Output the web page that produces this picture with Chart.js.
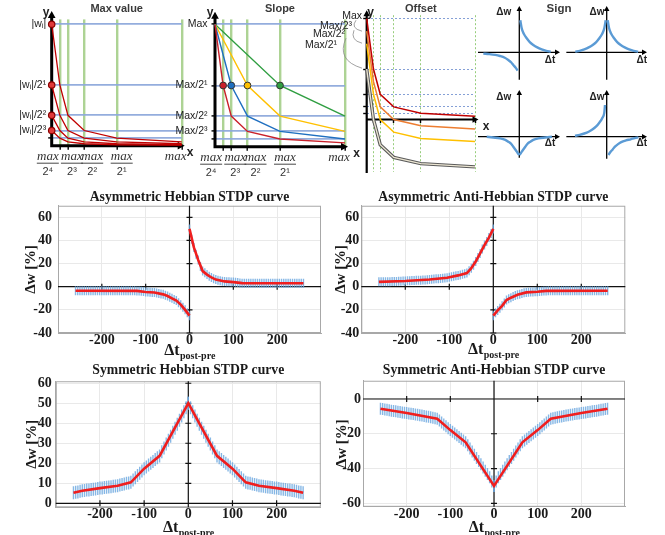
<!DOCTYPE html>
<html>
<head>
<meta charset="utf-8">
<title>STDP curves</title>
<script src="https://cdn.jsdelivr.net/npm/chart.js@4.4.0/dist/chart.umd.min.js"></script>
<style>
    body { margin: 0; background: #fff; }
    #page { position: relative; width: 665px; height: 535px; overflow: hidden; background: #fff; }
    #page canvas { position: absolute; }
</style>
</head>
<body>
<div id="page"></div>
<script>
// ---------- STDP curves (bottom) ----------
const dtNeg = [-260, -255, -250, -245, -240, -235, -230, -225, -220, -215, -210, -205, -200, -195, -190, -185, -180, -175,
    -170, -165, -160, -155, -150, -145, -140, -135, -130, -125, -120, -115, -110, -105, -100, -95, -90, -85, -80, -75,
    -70, -65, -60, -55, -50, -45, -40, -35, -30, -25, -20, -15, -10, -5, 0];
const dtPos = [0, 5, 10, 15, 20, 25, 30, 35, 40, 45, 50, 55, 60, 65, 70, 75, 80, 85, 90, 95, 100, 105, 110, 115, 120,
    125, 130, 135, 140, 145, 150, 155, 160, 165, 170, 175, 180, 185, 190, 195, 200, 205, 210, 215, 220, 225, 230, 235,
    240, 245, 250, 255, 260];

const asymHebbNeg = [-3.5, -3.5, -3.5, -3.5, -3.5, -3.5, -3.5, -3.5, -3.5, -3.5, -3.5, -3.5, -3.5, -3.5, -3.5, -3.5,
    -3.5, -3.5, -3.5, -3.5, -3.5, -3.5, -3.5, -3.5, -3.5, -3.5, -3.5, -3.5,
    -3.6, -3.8, -4.0, -4.2, -4.5, -4.6, -4.8, -4.9, -5.0, -5.4, -5.8, -6.2, -6.6, -7.3, -8.0, -9.0, -10.0, -11.0, -12.0,
    -13.8, -15.5, -17.8, -20.0, -22.5, -25.0];
const asymHebbPos = [50, 41, 34, 28, 23, 17.5, 13.5, 12, 10.5, 9, 8, 7, 6.2, 5.6, 5.1, 4.8, 4.6, 4.4, 4.2, 4.1, 4.0, 3.8,
    3.6, 3.3, 3.1, 3, 3, 3, 3, 3, 3, 3, 3, 3, 3, 3, 3, 3, 3, 3, 3, 3, 3, 3, 3, 3, 3, 3, 3, 3, 3, 3, 3];
const asymHebbRedX = [-260, -120, -100, -80, -60, -50, -40, -30, -20, -10, 0, 0, 0, 10, 20, 30, 40, 50, 60, 80, 100, 120, 260];
const asymHebbRedY = [-3.5, -3.6, -4.5, -5, -6.6, -8, -10, -12, -15.5, -20, -25, null, 50, 34, 23, 13.5, 10.5, 8, 6.2, 4.6, 4, 3.1, 3];

const asymAntiNeg = [4.2, 4.2, 4.3, 4.3, 4.4, 4.4, 4.5, 4.5, 4.6, 4.7, 4.8, 4.9, 5.0, 5.1, 5.2, 5.3, 5.4, 5.5, 5.6, 5.7,
    5.8, 5.9, 6.1, 6.3, 6.4, 6.6, 6.8, 7.0, 7.2, 7.4, 7.6, 7.8, 8.2, 8.6, 9.0, 9.4, 9.8, 10.2, 10.7, 11.2, 11.8, 13.8,
    16.0, 18.6, 21.8, 25.2, 28.8, 32.5, 36.0, 39.0, 42.5, 46.0, 50.0];
const asymAntiPos = [-25, -22.5, -20.5, -18.7, -16.5, -14, -11.5, -10.5, -9.5, -8.5, -7.6, -7, -6.4, -5.8, -5.3, -4.9,
    -4.8, -4.6, -4.5, -4.4, -4.3, -4.1, -3.9, -3.7, -3.6, -3.5, -3.5, -3.5, -3.5, -3.5, -3.5, -3.5, -3.5, -3.5, -3.5,
    -3.5, -3.5, -3.5, -3.5, -3.5, -3.5, -3.5, -3.5, -3.5, -3.5, -3.5, -3.5, -3.5, -3.5, -3.5, -3.5, -3.5, -3.5];
const asymAntiRedX = [-260, -200, -145, -105, -80, -60, -50, -40, -30, -20, -10, 0, 0, 0, 10, 20, 30, 40, 55, 75, 100, 120, 260];
const asymAntiRedY = [4.2, 5, 6.3, 7.8, 9.8, 11.8, 16, 21.8, 28.8, 36, 42.5, 50, null, -25, -20.5, -16.5, -11.5, -9.5, -7, -4.9, -4.3, -3.6, -3.5];

const symHebbNeg = [5.3, 5.5, 5.7, 6.0, 6.3, 6.4, 6.6, 6.7, 6.9, 7.0, 7.2, 7.4, 7.6, 7.7, 7.9, 8.0, 8.2, 8.3, 8.5, 8.6,
    8.8, 9.1, 9.4, 9.7, 10.0, 10.2, 10.5, 11.6, 12.8, 13.9, 15.0, 16.2, 17.3, 18.2, 19.1, 20.0, 20.9, 21.9, 22.8, 23.7,
    25.7, 27.6, 29.6, 31.5, 33.5, 35.5, 37.5, 39.5, 41.5, 43.6, 45.7, 47.8, 50];
const symHebbPos = [50, 47.8, 45.7, 43.6, 41.5, 39.5, 37.5, 35.5, 33.5, 31.5, 29.6, 27.6, 25.7, 23.7, 22.8, 21.9, 20.9,
    20.0, 19.1, 18.2, 17.3, 16.2, 15.0, 13.9, 12.8, 11.6, 10.5, 10.2, 10.0, 9.7, 9.4, 9.1, 8.8, 8.6, 8.5, 8.3, 8.2, 8.0,
    7.9, 7.7, 7.6, 7.4, 7.2, 7.0, 6.9, 6.7, 6.6, 6.4, 6.3, 6.0, 5.7, 5.5, 5.3];
const symHebbRedX = [-260, -240, -200, -160, -130, -100, -65, 0, 65, 100, 130, 160, 200, 240, 260];
const symHebbRedY = [5.3, 6.3, 7.6, 8.8, 10.5, 17.3, 23.7, 50, 23.7, 17.3, 10.5, 8.8, 7.6, 6.3, 5.3];

const symAntiNeg = [-5.6, -5.8, -6.0, -6.2, -6.5, -6.7, -6.9, -7.1, -7.3, -7.5, -7.7, -7.9, -8.1, -8.3, -8.5, -8.7, -8.9,
    -9.1, -9.3, -9.5, -9.8, -10.0, -10.2, -10.5, -10.8, -11.1, -11.4, -12.4, -13.5, -14.6, -15.7, -16.8, -17.9, -18.9,
    -19.9, -20.9, -21.9, -22.9, -23.9, -24.9, -26.6, -28.4, -30.2, -32.0, -33.9, -35.7, -37.5, -39.4, -41.2, -43.1,
    -45.0, -47.5, -50];
const symAntiPos = [-50, -47.5, -45.0, -43.1, -41.2, -39.4, -37.5, -35.7, -33.9, -32.0, -30.2, -28.4, -26.6, -24.9,
    -23.9, -22.9, -21.9, -20.9, -19.9, -18.9, -17.9, -16.8, -15.7, -14.6, -13.5, -12.4, -11.4, -11.1, -10.8, -10.5,
    -10.2, -10.0, -9.8, -9.5, -9.3, -9.1, -8.9, -8.7, -8.5, -8.3, -8.1, -7.9, -7.7, -7.5, -7.3, -7.1, -6.9, -6.7, -6.5,
    -6.2, -6.0, -5.8, -5.6];
const symAntiRedX = [-260, -200, -130, -100, -65, 0, 65, 100, 130, 200, 260];
const symAntiRedY = [-5.6, -8.1, -11.4, -17.9, -24.9, -50, -24.9, -17.9, -11.4, -8.1, -5.6];

const stdpXTicks = [-200, -100, 0, 100, 200];
const asymYTicks = [-40, -20, 0, 20, 40, 60];
const symHebbYTicks = [0, 10, 20, 30, 40, 50, 60];
const symAntiYTicks = [-60, -40, -20, 0];
const yAxisTitle = 'Δw [%]';
const xAxisTitle = ['Δt', 'post-pre'];

// ---------- schematics (top) ----------
const levelTicks = [1, 0.5, 0.25, 0.125, 0.0625];
const wLabels = ['|wᵢ|', '|wᵢ|/2¹', '|wᵢ|/2²', '|wᵢ|/2³', ''];
const maxLabels = ['Max', 'Max/2¹', 'Max/2²', 'Max/2³', ''];
const fracTicks = [0.0625, 0.125, 0.25, 0.5, 1];
const fracNum = 'max';
const fracDen = ['2⁴', '2³', '2²', '2¹', ''];
const knotX = [0, 0.0625, 0.125, 0.25, 0.5, 1];
const maxValueCurves = [
    [1, 0.5, 0.25, 0.125, 0.0625, 0.031],
    [0.5, 0.25, 0.125, 0.0625, 0.031, 0.016],
    [0.25, 0.125, 0.0625, 0.031, 0.016, 0.008],
    [0.125, 0.0625, 0.031, 0.016, 0.008, 0.004]
];
const slopeRedX = [0, 0.0625, 0.125, 0.25, 0.5, 1];
const slopeRedY = [1, 0.5, 0.25, 0.125, 0.0625, 0.031];
const slopeBlueX = [0, 0.125, 0.25, 0.5, 1];
const slopeBlueY = [1, 0.5, 0.25, 0.125, 0.0625];
const slopeYellowX = [0, 0.25, 0.5, 1];
const slopeYellowY = [1, 0.5, 0.25, 0.125];
const slopeGreenX = [0, 0.5, 1];
const slopeGreenY = [1, 0.5, 0.25];
const offsetRedY = [1, 0.5, 0.25, 0.125, 0.0625, 0.031];
const offsetOrangeY = [0.875, 0.375, 0.125, 0, -0.0625, -0.094];
const offsetYellowY = [0.75, 0.25, 0, -0.125, -0.1875, -0.219];
const offsetGreyY = [0.5, 0, -0.25, -0.375, -0.4375, -0.469];
const offsetNotes = ['Max', 'Max/2³', 'Max/2²', 'Max/2¹'];

const sign1PosX = [1, 2.4, 4.5, 7.4, 10.5, 14, 18, 22.4, 27, 31.4];
const sign1PosY = [32, 24, 18.5, 14, 10.2, 7.3, 4.9, 3, 1.5, 0.6];
const sign1NegX = [-36, -30, -24, -19.3, -14.5, -11, -8, -6, -3.5, -1.7];
const sign1NegY = [-1.3, -1.8, -2.6, -3.7, -5.4, -7.7, -10.2, -12.7, -15.6, -18.3];
const sign2LeftX = [-31.4, -27, -22.4, -18, -14, -10.5, -7.4, -4.5, -2.4, -1];
const sign2LeftY = [0.6, 1.5, 3, 4.9, 7.3, 10.2, 14, 18.5, 24, 32];
const sign2RightX = [1, 2.4, 4.5, 7.4, 10.5, 14, 18, 22.4, 27, 31.4];
const sign2RightY = [32, 24, 18.5, 14, 10.2, 7.3, 4.9, 3, 1.5, 0.6];
const sign3LeftX = [-32.6, -26, -19.3, -14, -11, -8, -6, -3.5, -1.5, 0];
const sign3LeftY = [0, -0.8, -1.7, -3.2, -5, -7.3, -10, -13.5, -16.5, -18.3];
const sign3RightX = [0, 1.5, 3.5, 6, 8, 11, 14, 19.3, 26, 32.6];
const sign3RightY = [-18.3, -16.5, -13.5, -10, -7.3, -5, -3.2, -1.7, -0.8, 0];
const sign4PosX = [-31.7, -27, -22.4, -18, -14, -10.5, -7.4, -4.5, -2.4, -1.7];
const sign4PosY = [1, 1.8, 3.2, 5, 7.4, 10.3, 14, 18.5, 24, 31.7];
const sign4NegX = [1.7, 3.5, 6, 8, 11, 14.5, 19.3, 24, 28, 31.7];
const sign4NegY = [-18.3, -15.6, -12.7, -10.2, -7.7, -5.4, -3.7, -2.6, -1.4, -0.6];

// ---------- helpers ----------
const SERIF = '"Liberation Serif", "Times New Roman", serif';
const SANS = '"Liberation Sans", Arial, sans-serif';

Chart.defaults.responsive = false;
Chart.defaults.animation = false;
Chart.defaults.events = [];
Chart.defaults.color = '#000';
Chart.defaults.font.family = SANS;
Chart.defaults.plugins.legend.display = false;
Chart.defaults.plugins.tooltip.enabled = false;

function place(id, left, top, w, h) {
    const c = document.createElement('canvas');
    c.id = id;
    c.width = w;
    c.height = h;
    c.style.left = left + 'px';
    c.style.top = top + 'px';
    document.getElementById('page').appendChild(c);
    return c;
}

function pts(xs, ys) {
    return xs.map((x, i) => ({x: x, y: ys[i]}));
}

// box + black axes through the origin, with small tick marks
const originAxes = {
    id: 'originAxes',
    beforeDatasetsDraw(chart, args, o) {
        if (!o || !o.show) return;
        const {ctx, chartArea: a, scales: {x, y}} = chart;
        const x0 = x.getPixelForValue(0), y0 = y.getPixelForValue(0);
        ctx.save();
        ctx.strokeStyle = '#a8a8a8';
        ctx.lineWidth = 1;
        ctx.strokeRect(a.left + 0.5, a.top + 0.5, a.width - 1, a.height - 1);
        ctx.strokeStyle = '#111';
        ctx.lineWidth = 1.2;
        ctx.beginPath();
        ctx.moveTo(a.left, y0);
        ctx.lineTo(a.right, y0);
        ctx.moveTo(x0, a.top);
        ctx.lineTo(x0, a.bottom);
        x.ticks.forEach(t => {
            const px = x.getPixelForValue(t.value);
            ctx.moveTo(px, y0 - 3);
            ctx.lineTo(px, y0 + 3);
        });
        y.ticks.forEach(t => {
            const py = y.getPixelForValue(t.value);
            ctx.moveTo(x0 - 3, py);
            ctx.lineTo(x0 + 3, py);
        });
        ctx.stroke();
        ctx.restore();
    }
};

// "Δt" with the "post-pre" subscript under the x axis
const xTitle = {
    id: 'xTitle',
    afterDraw(chart, args, o) {
        if (!o || !o.show) return;
        const {ctx, chartArea: a} = chart;
        const big = 'bold 16px ' + SERIF, small = 'bold 10px ' + SERIF;
        ctx.save();
        ctx.fillStyle = '#1a1a1a';
        ctx.textAlign = 'left';
        ctx.textBaseline = 'alphabetic';
        ctx.font = big;
        const w1 = ctx.measureText(xAxisTitle[0]).width;
        ctx.font = small;
        const w2 = ctx.measureText(xAxisTitle[1]).width;
        const left = (a.left + a.right) / 2 - (w1 + w2) / 2;
        ctx.font = big;
        ctx.fillText(xAxisTitle[0], left, o.y + 5.5);
        ctx.font = small;
        ctx.fillText(xAxisTitle[1], left + w1 + 0.5, o.y + 9.5);
        ctx.restore();
    }
};

// thick arrow axes for the schematic panels, plus free labels
const arrowAxes = {
    id: 'arrowAxes',
    beforeDatasetsDraw(chart, args, o) {
        if (!o || !o.show) return;
        const {ctx, chartArea: a, scales: {x, y}} = chart;
        const x0 = x.getPixelForValue(0), y0 = y.getPixelForValue(0);
        const w = o.width, h = o.head;
        const xTip = a.right + (o.xExt || 0), yTip = a.top - (o.yExt || 0);
        ctx.save();
        ctx.strokeStyle = '#000';
        ctx.fillStyle = '#000';
        ctx.lineWidth = w;
        ctx.beginPath();
        ctx.moveTo(a.left - w / 2, y0);
        ctx.lineTo(xTip - h + 1, y0);
        ctx.moveTo(x0, a.bottom + w / 2);
        ctx.lineTo(x0, yTip + h - 1);
        ctx.stroke();
        ctx.beginPath();
        ctx.moveTo(xTip, y0);
        ctx.lineTo(xTip - h, y0 - h * 0.55);
        ctx.lineTo(xTip - h, y0 + h * 0.55);
        ctx.closePath();
        ctx.moveTo(x0, yTip);
        ctx.lineTo(x0 - h * 0.55, yTip + h);
        ctx.lineTo(x0 + h * 0.55, yTip + h);
        ctx.closePath();
        ctx.fill();
        ctx.strokeStyle = '#8c8c8c';
        ctx.lineWidth = 0.8;
        (o.curves || []).forEach(c => {
            ctx.beginPath();
            ctx.moveTo(x0 + c[0], y0 + c[1]);
            ctx.quadraticCurveTo(x0 + c[2], y0 + c[3], x0 + c[4], y0 + c[5]);
            ctx.stroke();
        });
        ctx.textBaseline = 'middle';
        (o.labels || []).forEach(l => {
            ctx.font = l.font || o.font;
            ctx.fillStyle = l.color || '#222';
            ctx.textAlign = l.align || 'center';
            ctx.fillText(l.text, x0 + l.dx, y0 + l.dy);
        });
        ctx.restore();
    }
};

// max / 2^k fraction labels under the x axis
const fractionLabels = {
    id: 'fractionLabels',
    afterDraw(chart, args, o) {
        if (!o || !o.show) return;
        const {ctx, chartArea: a, scales: {x}} = chart;
        ctx.save();
        ctx.fillStyle = '#333';
        ctx.strokeStyle = '#333';
        ctx.lineWidth = 0.9;
        ctx.textAlign = 'center';
        ctx.textBaseline = 'middle';
        fracTicks.forEach((v, i) => {
            const cx = x.getPixelForValue(v) + o.nudge[i];
            ctx.font = 'italic 13px ' + SERIF;
            ctx.fillText(fracNum, cx, a.bottom + 10.5);
            if (fracDen[i]) {
                ctx.beginPath();
                ctx.moveTo(cx - 11, a.bottom + 17.5);
                ctx.lineTo(cx + 11, a.bottom + 17.5);
                ctx.stroke();
                ctx.font = '11px ' + SANS;
                ctx.fillText(fracDen[i], cx, a.bottom + 26);
            }
        });
        ctx.restore();
    }
};

// ---------- bottom STDP charts ----------
function stdpChart(p) {
    const blue = pts(dtNeg, p.neg).concat(pts(dtPos, p.pos));
    const tickFont = {family: SERIF, size: 14, weight: 'bold', lineHeight: 1};
    return new Chart(place(p.id, p.box[0], p.box[1], p.box[2], p.box[3]), {
        type: 'scatter',
        data: {
            datasets: [{
                data: pts(p.redX, p.redY),
                showLine: true,
                borderColor: '#f01e1e',
                borderWidth: 2.6,
                pointRadius: 0,
                spanGaps: false
            }, {
                data: blue,
                pointStyle: 'line',
                pointRotation: 90,
                pointRadius: p.band,
                pointBorderColor: 'rgba(104, 165, 222, 0.8)',
                pointBorderWidth: 1.4
            }]
        },
        options: {
            layout: {padding: {left: 0, top: 0, bottom: 0, right: p.padRight}},
            plugins: {
                title: {
                    display: true, text: p.title, fullSize: false, color: '#1a1a1a',
                    font: {family: SERIF, size: 13.7, weight: 'bold', lineHeight: 1.2},
                    padding: p.titlePad
                },
                originAxes: {show: true},
                xTitle: {show: true, y: p.xTitleY}
            },
            scales: {
                x: {
                    type: 'linear', min: -300, max: 300,
                    afterBuildTicks: s => { s.ticks = stdpXTicks.map(v => ({value: v})); },
                    afterFit: s => { s.height = p.xh; },
                    grid: {color: '#e9e9e9', drawTicks: false},
                    border: {color: '#a8a8a8'},
                    ticks: {font: tickFont, color: '#1a1a1a', padding: p.xTickPad, maxRotation: 0}
                },
                y: {
                    min: p.yMin, max: p.yMax,
                    afterBuildTicks: s => { s.ticks = p.yTicks.map(v => ({value: v})); },
                    afterFit: s => { s.width = p.yw; },
                    grid: {color: '#e9e9e9', drawTicks: false},
                    border: {color: '#a8a8a8'},
                    ticks: {font: tickFont, color: '#1a1a1a', padding: p.yTickPad},
                    title: {
                        display: true, text: yAxisTitle, color: '#1a1a1a',
                        font: {family: SERIF, size: 15, weight: 'bold', lineHeight: 1.2},
                        padding: {top: p.yTitleTop, bottom: 0}
                    }
                }
            }
        },
        plugins: [originAxes, xTitle]
    });
}

stdpChart({
    id: 'asymHebb', box: [0, 185, 330, 180], title: 'Asymmetric Hebbian STDP curve',
    neg: asymHebbNeg, pos: asymHebbPos, redX: asymHebbRedX, redY: asymHebbRedY,
    yMin: -40, yMax: 70, yTicks: asymYTicks, band: 4.5,
    padRight: 9, yw: 58, xh: 32, titlePad: {top: 3.8, bottom: 0.5},
    yTitleTop: 22, yTickPad: 6, xTickPad: 0, xTitleY: 164
});
stdpChart({
    id: 'asymAnti', box: [330, 185, 335, 180], title: 'Asymmetric Anti-Hebbian STDP curve',
    neg: asymAntiNeg, pos: asymAntiPos, redX: asymAntiRedX, redY: asymAntiRedY,
    yMin: -40, yMax: 70, yTicks: asymYTicks, band: 4.5,
    padRight: 39.7, yw: 31.3, xh: 32, titlePad: {top: 4.1, bottom: 0.2},
    yTitleTop: 2, yTickPad: 2, xTickPad: 0, xTitleY: 163.3
});
stdpChart({
    id: 'symHebb', box: [0, 358, 330, 177], title: 'Symmetric Hebbian STDP curve',
    neg: symHebbNeg, pos: symHebbPos, redX: symHebbRedX, redY: symHebbRedY,
    yMin: -2, yMax: 61, yTicks: symHebbYTicks, band: 6.5,
    padRight: 9.2, yw: 55.8, xh: 27.7, titlePad: {top: 3.8, bottom: 3},
    yTitleTop: 23.5, yTickPad: 4, xTickPad: 0.5, xTitleY: 168.7
});
stdpChart({
    id: 'symAnti', box: [330, 358, 335, 177], title: 'Symmetric Anti-Hebbian STDP curve',
    neg: symAntiNeg, pos: symAntiPos, redX: symAntiRedX, redY: symAntiRedY,
    yMin: -62, yMax: 10.5, yTicks: symAntiYTicks, band: 6,
    padRight: 40, yw: 33, xh: 28.2, titlePad: {top: 4.5, bottom: 1.8},
    yTitleTop: 3, yTickPad: 2, xTickPad: 1, xTitleY: 168.7
});

// ---------- top schematic panels ----------
function schematic(p) {
    return new Chart(place(p.id, p.box[0], p.box[1], p.box[2], p.box[3]), {
        type: 'scatter',
        data: {datasets: p.datasets},
        options: {
            layout: {padding: p.pad},
            plugins: {
                title: {
                    display: true, text: p.title, fullSize: false, color: '#3a3a3a',
                    font: {family: SANS, size: 11, weight: 'bold', lineHeight: 1.2},
                    padding: p.titlePad
                },
                arrowAxes: p.axes,
                fractionLabels: {show: !!p.fractions, nudge: [-12, 4, 8, 5, -6]}
            },
            scales: {
                x: {
                    type: 'linear', min: 0, max: 1, position: p.xPos || 'bottom',
                    afterBuildTicks: s => { s.ticks = fracTicks.map(v => ({value: v})); },
                    afterFit: s => { s.height = p.xh || 0; },
                    ticks: {display: false},
                    grid: {color: p.vColor, lineWidth: p.vWidth, tickColor: '#000', tickLength: 4, tickWidth: 1.4},
                    border: {display: false, dash: p.dash || []}
                },
                y: {
                    min: p.yMin, max: p.yMax,
                    afterBuildTicks: s => { s.ticks = levelTicks.map(v => ({value: v})); },
                    afterFit: s => { s.width = p.yw; },
                    ticks: {
                        display: !!p.yLabels, autoSkip: false,
                        callback: (v, i) => (p.yLabels ? p.yLabels[i] : ''),
                        font: {family: SANS, size: 10.5}, color: '#222', padding: p.yTickPad || 2
                    },
                    grid: {color: p.hColor, lineWidth: p.hWidth, tickColor: '#000', tickLength: 3.5, tickWidth: 1.4},
                    border: {display: false, dash: p.dash || []}
                }
            }
        },
        plugins: [arrowAxes, fractionLabels]
    });
}

const axisFont = 'bold 12px ' + SANS;

schematic({
    id: 'maxValue', box: [0, 0, 200, 182], title: 'Max value',
    pad: {left: 0, right: 18.3, top: 0, bottom: 0}, titlePad: {top: 2, bottom: 4.2},
    yMin: 0, yMax: 1.04, yw: 51.7, xh: 36.3, yLabels: wLabels, yTickPad: 2,
    hColor: 'rgba(142, 169, 219, 0.95)', hWidth: 1.8, vColor: 'rgba(169, 209, 142, 0.95)', vWidth: 2.4,
    fractions: true,
    axes: {show: true, width: 3, head: 7, xExt: 3, yExt: 8.5, font: axisFont,
        labels: [{text: 'y', dx: -5.5, dy: -133}, {text: 'x', dx: 138.5, dy: 7}]},
    datasets: maxValueCurves.map(ys => ({
        data: pts(knotX, ys), showLine: true, borderColor: '#c00000', borderWidth: 1.3, clip: false,
        pointRadius: c => (c.dataIndex === 0 ? 3.2 : 0),
        pointBackgroundColor: '#e03a3a', pointBorderColor: '#8b0000', pointBorderWidth: 1.2
    }))
});

const slopeSeries = [
    [slopeRedX, slopeRedY, '#c9202a'],
    [slopeBlueX, slopeBlueY, '#1f6fc0'],
    [slopeYellowX, slopeYellowY, '#ffc000'],
    [slopeGreenX, slopeGreenY, '#2f9e41']
];
schematic({
    id: 'slope', box: [165, 0, 200, 182], title: 'Slope',
    pad: {left: 0, right: 20, top: 0, bottom: 0}, titlePad: {top: 2, bottom: 4.2},
    yMin: 0, yMax: 1.04, yw: 50, xh: 35.3, yLabels: maxLabels, yTickPad: 4,
    hColor: 'rgba(142, 169, 219, 0.95)', hWidth: 1.8, vColor: 'rgba(169, 209, 142, 0.95)', vWidth: 2.4,
    fractions: true,
    axes: {show: true, width: 3, head: 7, xExt: 3, yExt: 7.7, font: axisFont,
        labels: [{text: 'y', dx: -5, dy: -134}, {text: 'x', dx: 141.7, dy: 6.6}]},
    datasets: slopeSeries.map(([xs, ys, col]) => ({
        data: pts(xs, ys), showLine: true, borderColor: col, borderWidth: 1.4, clip: false,
        pointRadius: c => (c.raw && c.raw.y === 0.5 ? 3.4 : 0),
        pointBackgroundColor: col, pointBorderColor: '#333', pointBorderWidth: 1
    }))
});

const noteFont = '10.5px ' + SANS;
schematic({
    id: 'offset', box: [300, 0, 195, 182], title: 'Offset',
    pad: {left: 0, right: 20, top: 0, bottom: 10}, titlePad: {top: 2, bottom: 0},
    yMin: -0.52, yMax: 1.033, yw: 66.7, xPos: {y: 0},
    hColor: 'rgba(120, 150, 210, 0.9)', hWidth: 1, vColor: 'rgba(140, 200, 110, 0.9)', vWidth: 1, dash: [2, 2],
    axes: {show: true, width: 2.2, head: 6, xExt: 3.5, yExt: 5, font: axisFont,
        labels: [
            {text: 'y', dx: 4, dy: -107},
            {text: 'x', dx: 119.3, dy: 7.4},
            {text: offsetNotes[0], dx: -4.7, dy: -103.6, align: 'right', font: noteFont},
            {text: offsetNotes[1], dx: -14.7, dy: -93.3, align: 'right', font: noteFont},
            {text: offsetNotes[2], dx: -21.7, dy: -85, align: 'right', font: noteFont},
            {text: offsetNotes[3], dx: -29.7, dy: -74.3, align: 'right', font: noteFont}
        ],
        curves: [
            [-10.7, -99.3, -16.7, -91.3, -4.7, -88.3],
            [-12.7, -89.3, -16.7, -79.3, -4.7, -76.3],
            [-20.7, -81.3, -30.7, -59.3, -4.7, -51.3]
        ]},
    datasets: [
        {data: pts(knotX, offsetRedY), color: '#c00000', width: 1.5},
        {data: pts(knotX, offsetOrangeY), color: '#ed7d31', width: 1.5},
        {data: pts(knotX, offsetYellowY), color: '#ffc000', width: 1.5},
        {data: pts(knotX, offsetGreyY), color: '#ece6d3', width: 1.3},
        {data: pts(knotX, offsetGreyY), color: '#5a5a5a', width: 3.4}
    ].map(d => ({data: d.data, showLine: true, borderColor: d.color, borderWidth: d.width, pointRadius: 0, clip: false}))
});

// ---------- sign panel (four small plots) ----------
function signChart(p) {
    return new Chart(place(p.id, p.box[0], p.box[1], p.box[2], p.box[3]), {
        type: 'scatter',
        data: {
            datasets: p.branches.map(b => ({
                data: pts(b[0], b[1]), showLine: true, borderColor: '#5b9bd5', borderWidth: 2.4,
                pointRadius: 0, cubicInterpolationMode: 'monotone', clip: false
            }))
        },
        options: {
            layout: {padding: p.pad},
            scales: {
                x: {display: false, type: 'linear', min: p.xr[0], max: p.xr[1]},
                y: {display: false, min: p.yr[0], max: p.yr[1]}
            },
            plugins: {
                arrowAxes: {show: true, width: 1.3, head: 5, font: 'bold 10px ' + SANS, labels: p.labels}
            }
        },
        plugins: [arrowAxes]
    });
}

signChart({
    id: 'sign1', box: [478, 0, 100, 80], pad: {left: 0, top: 6, right: 18, bottom: 1},
    xr: [-41.3, 40.7], yr: [-26.7, 46.3],
    branches: [[sign1NegX, sign1NegY], [sign1PosX, sign1PosY]],
    labels: [{text: 'Δw', dx: -15.5, dy: -40.3}, {text: 'Δt', dx: 30.7, dy: 7.7},
        {text: 'Sign', dx: 39.7, dy: -43.3, font: 'bold 11.5px ' + SANS, color: '#3a3a3a'}]
});
signChart({
    id: 'sign2', box: [565, 0, 100, 80], pad: {left: 2, top: 6, right: 18, bottom: 1},
    xr: [-39.7, 40.3], yr: [-26.7, 46.3],
    branches: [[sign2LeftX, sign2LeftY], [sign2RightX, sign2RightY]],
    labels: [{text: 'Δw', dx: -9.7, dy: -40.3}, {text: 'Δt', dx: 35, dy: 7.7}]
});
signChart({
    id: 'sign3', box: [478, 84, 100, 76], pad: {left: 0, top: 6, right: 18, bottom: 3},
    xr: [-41.3, 40.7], yr: [-20.3, 46.7],
    branches: [[sign3LeftX, sign3LeftY], [sign3RightX, sign3RightY]],
    labels: [{text: 'Δw', dx: -15.5, dy: -39.7}, {text: 'Δt', dx: 30.7, dy: 6.3}]
});
signChart({
    id: 'sign4', box: [565, 84, 100, 76], pad: {left: 2, top: 6, right: 18, bottom: 2},
    xr: [-39.7, 40.3], yr: [-21.3, 46.7],
    branches: [[sign4PosX, sign4PosY], [sign4NegX, sign4NegY]],
    labels: [{text: 'Δw', dx: -9.7, dy: -39.7}, {text: 'Δt', dx: 35, dy: 6.3}]
});
</script>
</body>
</html>
